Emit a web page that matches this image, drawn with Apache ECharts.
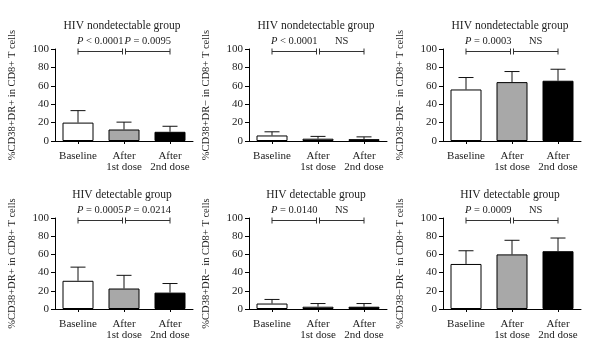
<!DOCTYPE html>
<html>
<head>
<meta charset="utf-8">
<script src="https://cdn.jsdelivr.net/npm/echarts@6/dist/echarts.min.js"></script>
<style>html,body{margin:0;padding:0;background:#fff}#c{width:600px;height:359px}</style>
</head>
<body>
<div id="c"></div>
<script>
const categories = ['Baseline', 'After\n1st dose', 'After\n2nd dose'];
const yTicks = [0, 20, 40, 60, 80, 100];
const titles = ['HIV nondetectable group', 'HIV nondetectable group', 'HIV nondetectable group',
                'HIV detectable group', 'HIV detectable group', 'HIV detectable group'];
const yNames = ['%CD38+DR+ in CD8+ T cells', '%CD38+DR\u2212 in CD8+ T cells', '%CD38\u2212DR\u2212 in CD8+ T cells',
                '%CD38+DR+ in CD8+ T cells', '%CD38+DR\u2212 in CD8+ T cells', '%CD38\u2212DR\u2212 in CD8+ T cells'];
// bar means
const means1 = [20, 12.5, 10];
const means2 = [6, 2.5, 2];
const means3 = [56, 64, 65.5];
const means4 = [31, 22.5, 18];
const means5 = [6, 2.5, 2.5];
const means6 = [49.5, 60, 63.5];
// top of error bars (mean + SD)
const errTop1 = [33, 20.5, 16];
const errTop2 = [10, 5, 4.5];
const errTop3 = [69, 75.5, 78];
const errTop4 = [46, 37, 28];
const errTop5 = [10.5, 6, 6];
const errTop6 = [64, 75.5, 78];
// p-value labels [baseline vs 1st, 1st vs 2nd]
const pLabels1 = ['P < 0.0001', 'P = 0.0095'];
const pLabels2 = ['P < 0.0001', 'NS'];
const pLabels3 = ['P = 0.0003', 'NS'];
const pLabels4 = ['P = 0.0005', 'P = 0.0214'];
const pLabels5 = ['P = 0.0140', 'NS'];
const pLabels6 = ['P = 0.0009', 'NS'];
const bracketLevel = 100;

const allMeans = [means1, means2, means3, means4, means5, means6];
const allErr = [errTop1, errTop2, errTop3, errTop4, errTop5, errTop6];
const allP = [pLabels1, pLabels2, pLabels3, pLabels4, pLabels5, pLabels6];

const barColors = ['#ffffff', '#a8a8a8', '#000000'];
const FONT = '"Liberation Serif", "DejaVu Serif", serif';

const colLeft = [55, 249, 443];
const gridW = 138;
const rowTop = [49, 218];
const rowH = [92, 91];

const grids = [], xAxes = [], yAxes = [], series = [], graphics = [];

for (let k = 0; k < 6; k++) {
  const col = k % 3, row = Math.floor(k / 3);
  grids.push({left: colLeft[col], top: rowTop[row], width: gridW, height: rowH[row]});
  xAxes.push({
    type: 'category', gridIndex: k, data: categories,
    axisLine: {lineStyle: {color: '#000', width: 1}},
    axisTick: {show: true, alignWithLabel: true, length: 3, lineStyle: {color: '#000'}},
    axisLabel: {color: '#222', fontFamily: FONT, fontSize: 11, lineHeight: 11.5, margin: 9, interval: 0}
  });
  yAxes.push({
    type: 'value', gridIndex: k, min: 0, max: 100, interval: 20,
    name: yNames[k], nameLocation: 'middle', nameRotate: 90, nameGap: 37,
    nameTextStyle: {color: '#222', fontFamily: FONT, fontSize: 10.5},
    axisLine: {show: true, lineStyle: {color: '#000', width: 1}},
    axisTick: {show: true, length: 4, lineStyle: {color: '#000'}},
    axisLabel: {color: '#222', fontFamily: FONT, fontSize: 11, margin: 6},
    splitLine: {show: false}
  });
  const means = allMeans[k], errs = allErr[k], pl = allP[k];
  series.push({
    type: 'bar', xAxisIndex: k, yAxisIndex: k, barWidth: 31,
    data: means.map((v, i) => ({value: v, itemStyle: {color: barColors[i], borderColor: '#000', borderWidth: 1}})),
    silent: true, animation: false
  });
  series.push({
    type: 'custom', xAxisIndex: k, yAxisIndex: k, animation: false, silent: true, clip: false, z: 5,
    data: means.map((v, i) => [i, errs[i], v]),
    renderItem: function (params, api) {
      const x = api.value(0), top = api.value(1), m = api.value(2);
      const p0 = api.coord([x, m]), p1 = api.coord([x, top]);
      const hw = 7.5;
      const st = {stroke: '#111', lineWidth: 1};
      return {type: 'group', children: [
        {type: 'line', shape: {x1: p0[0], y1: p0[1], x2: p1[0], y2: p1[1]}, style: st},
        {type: 'line', shape: {x1: p1[0] - hw, y1: p1[1], x2: p1[0] + hw, y2: p1[1]}, style: st}
      ]};
    }
  });
  series.push({
    type: 'custom', xAxisIndex: k, yAxisIndex: k, animation: false, silent: true, clip: false, z: 5,
    data: [[0, 1, bracketLevel], [1, 2, bracketLevel]],
    renderItem: (function (labels) {
      return function (params, api) {
        const a = api.value(0), b = api.value(1), y = api.value(2);
        const pa = api.coord([a, y]), pb = api.coord([b, y]);
        const x1 = pa[0] + (params.dataIndex === 1 ? 1.5 : 0);
        const x2 = pb[0] - (params.dataIndex === 0 ? 1.5 : 0);
        const yy = pa[1] + 2.5;
        const st = {stroke: '#333', lineWidth: 1};
        const lab = labels[params.dataIndex];
        let txt;
        if (lab.startsWith('P')) txt = '{i|P}{n|' + lab.slice(1) + '}';
        else txt = '{n|' + lab + '}';
        return {type: 'group', children: [
          {type: 'line', shape: {x1: x1, y1: yy, x2: x2, y2: yy}, style: st},
          {type: 'line', shape: {x1: x1, y1: yy - 3, x2: x1, y2: yy + 3}, style: st},
          {type: 'line', shape: {x1: x2, y1: yy - 3, x2: x2, y2: yy + 3}, style: st},
          {type: 'text', x: (x1 + x2) / 2, y: yy - 5, style: {
            text: txt, align: 'center', verticalAlign: 'bottom',
            rich: {
              i: {fontFamily: FONT, fontStyle: 'italic', fontSize: 10.5, fill: '#222'},
              n: {fontFamily: FONT, fontSize: 10.5, fill: '#222'}
            }
          }}
        ]};
      };
    })(pl)
  });
  graphics.push({
    type: 'text', left: colLeft[col] + gridW / 2 - 2, top: row === 0 ? 20 : 189,
    style: {text: titles[k], fontFamily: FONT, fontSize: 11.5, fill: '#222', align: 'center'}
  });
}

const chart = echarts.init(document.getElementById('c'), null, {renderer: 'canvas'});
chart.setOption({
  animation: false,
  grid: grids, xAxis: xAxes, yAxis: yAxes, series: series,
  graphic: graphics.map(g => ({type: 'text', x: g.left, y: g.top, style: Object.assign({}, g.style)}))
});
</script>
</body>
</html>
